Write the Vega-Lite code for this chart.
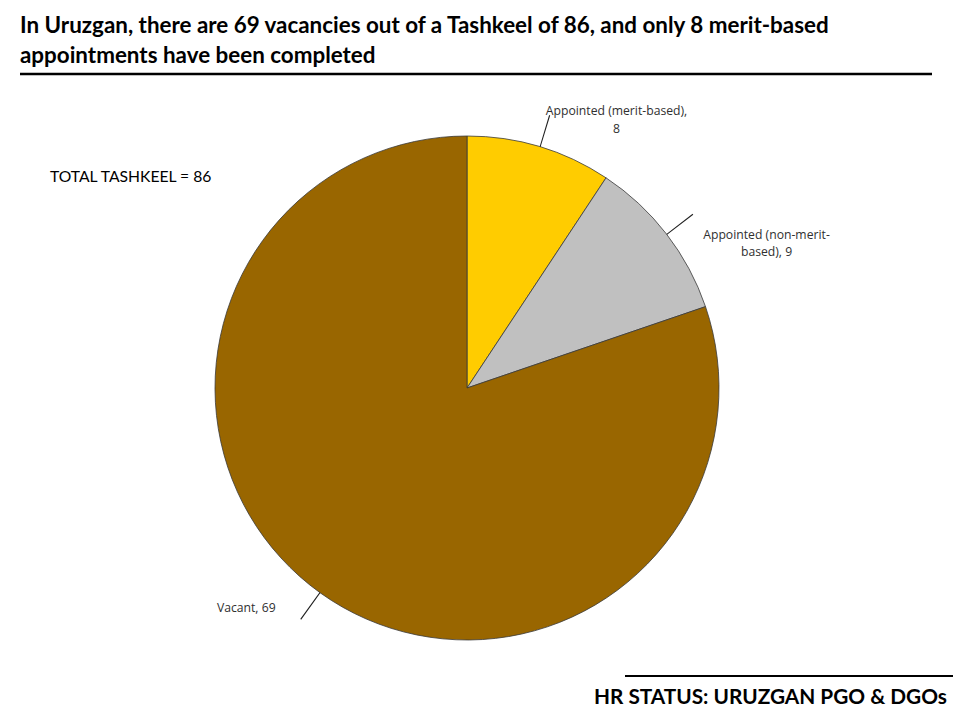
{
  "$schema": "https://vega.github.io/schema/vega-lite/v6.json",
  "width": 934,
  "height": 616,
  "autosize": {"type": "none"},
  "padding": {"left": 0, "top": 80, "right": 26, "bottom": 24},
  "background": "white",
  "view": {"stroke": null},
  "title": {
    "text": ["In Uruzgan, there are 69 vacancies out of a Tashkeel of 86, and only 8 merit-based", "appointments have been completed"],
    "anchor": "start",
    "frame": "group",
    "dx": 20,
    "dy": 33,
    "offset": 15,
    "baseline": "bottom",
    "lineHeight": 30,
    "font": "Lato",
    "fontSize": 22.4,
    "fontWeight": "bold",
    "color": "black"
  },
  "data": {
    "values": [
      {"category": "Appointed (merit-based)", "value": 8, "order": 1, "label": ["Appointed (merit-based),", "8"]},
      {"category": "Appointed (non-merit-based)", "value": 9, "order": 2, "label": ["Appointed (non-merit-", "based), 9"]},
      {"category": "Vacant", "value": 69, "order": 3, "label": ["Vacant, 69"]}
    ]
  },
  "resolve": {"scale": {"theta": "independent"}},
  "layer": [
    {
      "mark": {"type": "arc", "radius": 252, "stroke": "#3a3a3a", "strokeWidth": 0.8},
      "encoding": {
        "theta": {"field": "value", "type": "quantitative", "stack": true},
        "order": {"field": "order", "type": "quantitative"},
        "color": {
          "field": "category",
          "type": "nominal",
          "scale": {"domain": ["Appointed (merit-based)", "Appointed (non-merit-based)", "Vacant"], "range": ["#FFCC00", "#C0C0C0", "#996600"]},
          "legend": null
        }
      }
    },
    {
      "transform": [
        {"joinaggregate": [{"op": "sum", "field": "value", "as": "total"}]},
        {"window": [{"op": "sum", "field": "value", "as": "cum"}], "sort": [{"field": "order"}], "frame": [null, 0]},
        {"calculate": "(datum.cum - datum.value / 2) / datum.total * 2 * PI", "as": "mid"},
        {"calculate": "datum.mid + 0.004", "as": "mid2"}
      ],
      "mark": {"type": "arc", "radius": 285, "radius2": 252, "fill": "#222222"},
      "encoding": {
        "theta": {"field": "mid", "type": "quantitative", "scale": null},
        "theta2": {"field": "mid2"}
      }
    },
    {
      "mark": {"type": "text", "radius": 290, "dx": 66, "dy": 1, "align": "center", "baseline": "middle", "lineHeight": 18, "font": "Open Sans", "fontSize": 12.2, "color": "#303030"},
      "encoding": {
        "theta": {"field": "value", "type": "quantitative", "stack": true},
        "order": {"field": "order", "type": "quantitative"},
        "text": {"condition": {"test": "datum.order === 1", "field": "label"}, "value": ""}
      }
    },
    {
      "mark": {"type": "text", "radius": 290, "dx": 70, "dy": 24, "align": "center", "baseline": "middle", "lineHeight": 17, "font": "Open Sans", "fontSize": 12.2, "color": "#303030"},
      "encoding": {
        "theta": {"field": "value", "type": "quantitative", "stack": true},
        "order": {"field": "order", "type": "quantitative"},
        "text": {"condition": {"test": "datum.order === 2", "field": "label"}, "value": ""}
      }
    },
    {
      "mark": {"type": "text", "radius": 290, "dx": -52, "dy": -16, "align": "center", "baseline": "middle", "font": "Open Sans", "fontSize": 12.2, "color": "#303030"},
      "encoding": {
        "theta": {"field": "value", "type": "quantitative", "stack": true},
        "order": {"field": "order", "type": "quantitative"},
        "text": {"condition": {"test": "datum.order === 3", "field": "label"}, "value": ""}
      }
    },
    {
      "data": {"values": [{"note": "TOTAL TASHKEEL = 86"}]},
      "mark": {"type": "text", "align": "left", "baseline": "alphabetic", "font": "Lato", "fontSize": 15.7, "color": "black"},
      "encoding": {"text": {"field": "note"}, "x": {"value": 50}, "y": {"value": 102}}
    },
    {
      "data": {"values": [{"note": "HR STATUS: URUZGAN PGO & DGOs"}]},
      "mark": {"type": "text", "align": "right", "baseline": "alphabetic", "font": "Lato", "fontSize": 20.8, "fontWeight": "bold", "color": "black"},
      "encoding": {"text": {"field": "note"}, "x": {"value": 947}, "y": {"value": 624}}
    },
    {
      "data": {"values": [{"rule": "title"}]},
      "mark": {"type": "rule", "color": "black", "strokeWidth": 2.5},
      "encoding": {"x": {"value": 20}, "x2": {"value": 932}, "y": {"value": -6}}
    },
    {
      "data": {"values": [{"rule": "footer"}]},
      "mark": {"type": "rule", "color": "black", "strokeWidth": 2},
      "encoding": {"x": {"value": 625}, "x2": {"value": 953}, "y": {"value": 596}}
    }
  ]
}
